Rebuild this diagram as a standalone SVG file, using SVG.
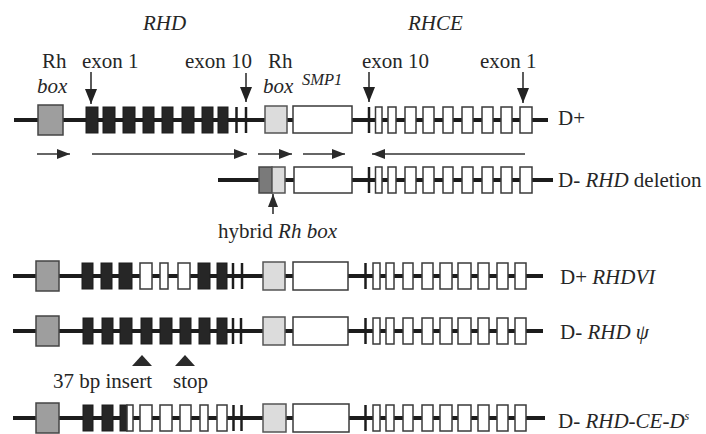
<svg xmlns="http://www.w3.org/2000/svg" xmlns:xlink="http://www.w3.org/1999/xlink" width="706" height="434" viewBox="0 0 706 434">
<style>
.ln{stroke:#1c1c1c;stroke-width:4;fill:none}
.dk{fill:#262626;stroke:#1c1c1c;stroke-width:1}
.wt{fill:#fff;stroke:#3a3a3a;stroke-width:1.5}
.rh1{fill:#9e9e9e;stroke:#444;stroke-width:1.5}
.rh2{fill:#dcdcdc;stroke:#555;stroke-width:1.5}
.hy{fill:#7a7a7a;stroke:#444;stroke-width:1.5}
.bar{stroke:#1c1c1c;stroke-width:2.5}
.ar{stroke:#333;stroke-width:1.6;fill:none}
.tri{fill:#2a2a2a}
.t{font-size:21px;fill:#262626}
.it{font-style:italic}
</style>
<defs>
<marker id="ah" markerUnits="userSpaceOnUse" markerWidth="13" markerHeight="10" refX="13" refY="5" orient="auto">
<path d="M0,0 L13,5 L0,10 z" fill="#2a2a2a"/>
</marker>
<marker id="ahb" markerUnits="userSpaceOnUse" markerWidth="15" markerHeight="12" refX="15" refY="6" orient="auto">
<path d="M0,0 L15,6 L0,12 z" fill="#222"/>
</marker>
<g id="rhceA">
<line class="bar" x1="369" y1="-13" x2="369" y2="13"/>
<rect class="wt" x="375.5" y="-13" width="6.5" height="26"/>
<rect class="wt" x="388" y="-13" width="8" height="26"/>
<rect class="wt" x="405" y="-13" width="11" height="26"/>
<rect class="wt" x="423" y="-13" width="11" height="26"/>
<rect class="wt" x="443" y="-13" width="10" height="26"/>
<rect class="wt" x="462" y="-13" width="11" height="26"/>
<rect class="wt" x="482" y="-13" width="11" height="26"/>
<rect class="wt" x="501" y="-13" width="11" height="26"/>
<rect class="wt" x="520" y="-13" width="12" height="26"/>
</g>
<g id="rhceB">
<line class="bar" x1="365.5" y1="-13" x2="365.5" y2="13"/>
<rect class="wt" x="373" y="-13" width="7" height="26"/>
<rect class="wt" x="386" y="-13" width="8" height="26"/>
<rect class="wt" x="403" y="-13" width="10" height="26"/>
<rect class="wt" x="422" y="-13" width="11" height="26"/>
<rect class="wt" x="440" y="-13" width="12" height="26"/>
<rect class="wt" x="458" y="-13" width="13" height="26"/>
<rect class="wt" x="478" y="-13" width="11" height="26"/>
<rect class="wt" x="497" y="-13" width="11" height="26"/>
<rect class="wt" x="515" y="-13" width="11" height="26"/>
</g>
</defs>
<rect width="706" height="434" fill="#fff"/>

<g id="headers" font-family="'Liberation Serif', 'DejaVu Serif', serif">
<text class="t it" x="143" y="30">RHD</text>
<text class="t it" x="408" y="30">RHCE</text>
<text class="t" x="42" y="68">Rh</text>
<text class="t it" x="37" y="93">box</text>
<text class="t" x="82" y="68">exon 1</text>
<text class="t" x="185" y="68">exon 10</text>
<text class="t" x="268" y="68">Rh</text>
<text class="t it" x="263" y="93">box</text>
<text class="t it" x="302" y="85" style="font-size:16.5px">SMP1</text>
<text class="t" x="362" y="68">exon 10</text>
<text class="t" x="480" y="68">exon 1</text>
</g>

<g id="row-dplus" font-family="'Liberation Serif', 'DejaVu Serif', serif">
<line class="ln" x1="14" y1="120" x2="548" y2="120"/>
<rect class="rh1" x="38" y="105" width="25" height="30"/>
<rect class="dk" x="86" y="107" width="12" height="26"/>
<rect class="dk" x="103" y="107" width="12" height="26"/>
<rect class="dk" x="123" y="107" width="12" height="26"/>
<rect class="dk" x="143" y="107" width="11" height="26"/>
<rect class="dk" x="162" y="107" width="11" height="26"/>
<rect class="dk" x="182" y="107" width="12" height="26"/>
<rect class="dk" x="202" y="107" width="11" height="26"/>
<rect class="dk" x="218" y="107" width="10" height="26"/>
<line class="bar" x1="236.5" y1="107" x2="236.5" y2="133"/>
<line class="bar" x1="246" y1="107" x2="246" y2="133"/>
<rect class="rh2" x="265" y="106" width="22" height="27"/>
<rect class="wt" x="293" y="106" width="59" height="27"/>
<use xlink:href="#rhceA" y="120"/>
<text class="t" x="558" y="125">D+</text>
</g>

<g id="row-deletion" font-family="'Liberation Serif', 'DejaVu Serif', serif">
<line class="ln" x1="218" y1="180" x2="553" y2="180"/>
<rect class="hy" x="259" y="167" width="13" height="26"/>
<rect class="rh2" x="272" y="167" width="13" height="26"/>
<rect class="wt" x="294" y="167" width="58" height="26"/>
<use xlink:href="#rhceA" y="180"/>
<text class="t" x="558" y="187">D- <tspan class="it">RHD</tspan> deletion</text>
<text class="t" x="218" y="238">hybrid <tspan class="it">Rh box</tspan></text>
</g>

<g id="row-rhdvi" font-family="'Liberation Serif', 'DejaVu Serif', serif">
<line class="ln" x1="13" y1="276" x2="543" y2="276"/>
<rect class="rh1" x="36" y="261" width="23" height="30"/>
<rect class="dk" x="82" y="263" width="11" height="26"/>
<rect class="dk" x="101" y="263" width="11" height="26"/>
<rect class="dk" x="119" y="263" width="13" height="26"/>
<rect class="wt" x="140" y="263" width="12" height="26"/>
<rect class="wt" x="160" y="263" width="8" height="26"/>
<rect class="wt" x="178" y="263" width="12" height="26"/>
<rect class="dk" x="198" y="263" width="12" height="26"/>
<rect class="dk" x="217" y="263" width="10" height="26"/>
<line class="bar" x1="233" y1="263" x2="233" y2="289"/>
<line class="bar" x1="242" y1="263" x2="242" y2="289"/>
<rect class="rh2" x="263" y="262" width="22" height="28"/>
<rect class="wt" x="293" y="262" width="55" height="28"/>
<use xlink:href="#rhceB" y="276"/>
<text class="t" x="560" y="284">D+ <tspan class="it">RHDVI</tspan></text>
</g>

<g id="row-psi" font-family="'Liberation Serif', 'DejaVu Serif', serif">
<line class="ln" x1="13" y1="331" x2="543" y2="331"/>
<rect class="rh1" x="36" y="316" width="23" height="30"/>
<rect class="dk" x="83" y="318" width="10" height="26"/>
<rect class="dk" x="102" y="318" width="11" height="26"/>
<rect class="dk" x="120" y="318" width="12" height="26"/>
<rect class="dk" x="141" y="318" width="11" height="26"/>
<rect class="dk" x="160" y="318" width="12" height="26"/>
<rect class="dk" x="180" y="318" width="11" height="26"/>
<rect class="dk" x="199" y="318" width="11" height="26"/>
<rect class="dk" x="217" y="318" width="10" height="26"/>
<line class="bar" x1="233" y1="318" x2="233" y2="344"/>
<line class="bar" x1="241" y1="318" x2="241" y2="344"/>
<rect class="rh2" x="263" y="317" width="22" height="28"/>
<rect class="wt" x="293" y="317" width="55" height="28"/>
<use xlink:href="#rhceB" y="331"/>
<polygon class="tri" points="132,366 142,355 152,366"/>
<polygon class="tri" points="175,366 185,355 195,366"/>
<text class="t" x="560" y="339">D- <tspan class="it">RHD ψ</tspan></text>
<text class="t" x="53" y="388">37 bp insert</text>
<text class="t" x="173" y="388">stop</text>
</g>

<g id="row-rhdced" font-family="'Liberation Serif', 'DejaVu Serif', serif">
<line class="ln" x1="13" y1="418" x2="545" y2="418"/>
<rect class="rh1" x="36" y="403" width="23" height="30"/>
<rect class="dk" x="83" y="405" width="10" height="26"/>
<rect class="dk" x="102" y="405" width="11" height="26"/>
<rect class="dk" x="120" y="405" width="7" height="26"/>
<rect class="wt" x="127" y="405" width="6" height="26"/>
<rect class="wt" x="140" y="405" width="12" height="26"/>
<rect class="wt" x="160" y="405" width="12" height="26"/>
<rect class="wt" x="180" y="405" width="11" height="26"/>
<rect class="wt" x="200" y="405" width="8" height="26"/>
<rect class="wt" x="217" y="405" width="10" height="26"/>
<line class="bar" x1="233.5" y1="405" x2="233.5" y2="431"/>
<line class="bar" x1="241.5" y1="405" x2="241.5" y2="431"/>
<rect class="rh2" x="263" y="404" width="23" height="28"/>
<rect class="wt" x="293" y="404" width="56" height="28"/>
<use xlink:href="#rhceB" y="418"/>
<text class="t" x="558" y="428">D- <tspan class="it">RHD-CE-D</tspan><tspan class="it" style="font-size:12px" dy="-8">s</tspan></text>
</g>

<g id="connectors">
<line class="ar" x1="91" y1="72" x2="91" y2="104" marker-end="url(#ahb)"/>
<line class="ar" x1="246" y1="73" x2="246" y2="102" marker-end="url(#ahb)"/>
<line class="ar" x1="369" y1="72" x2="369" y2="102" marker-end="url(#ahb)"/>
<line class="ar" x1="523" y1="72" x2="523" y2="103" marker-end="url(#ahb)"/>
<line class="ar" x1="37" y1="154" x2="70" y2="154" marker-end="url(#ah)"/>
<line class="ar" x1="92" y1="154" x2="247" y2="154" marker-end="url(#ah)"/>
<line class="ar" x1="258" y1="154" x2="292" y2="154" marker-end="url(#ah)"/>
<line class="ar" x1="303" y1="154" x2="345" y2="154" marker-end="url(#ah)"/>
<line class="ar" x1="525" y1="154" x2="372" y2="154" marker-end="url(#ah)"/>
<line class="ar" x1="273" y1="214" x2="273" y2="194" marker-end="url(#ah)"/>
</g>
</svg>
